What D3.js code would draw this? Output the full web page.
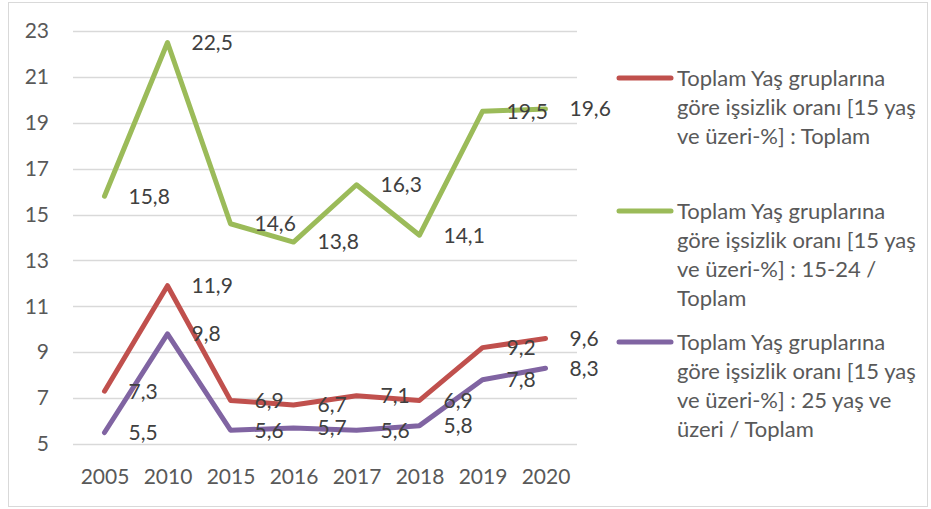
<!DOCTYPE html>
<html>
<head>
<meta charset="utf-8">
<script src="https://cdn.jsdelivr.net/npm/d3@7"></script>
<style>
  body { margin: 0; background: #fff; }
  svg { display: block; font-family: Lato, sans-serif; }
</style>
</head>
<body>
<div id="chart"></div>
<script>
const years = ['2005', '2010', '2015', '2016', '2017', '2018', '2019', '2020'];
const toplam = [7.3, 11.9, 6.9, 6.7, 7.1, 6.9, 9.2, 9.6];
const genc = [15.8, 22.5, 14.6, 13.8, 16.3, 14.1, 19.5, 19.6];
const yetiskin = [5.5, 9.8, 5.6, 5.7, 5.6, 5.8, 7.8, 8.3];
const yTicks = [5, 7, 9, 11, 13, 15, 17, 19, 21, 23];
const seriesNames = [
  ['Toplam Yaş gruplarına', 'göre işsizlik oranı [15 yaş', 've üzeri-%] : Toplam'],
  ['Toplam Yaş gruplarına', 'göre işsizlik oranı [15 yaş', 've üzeri-%] : 15-24 /', 'Toplam'],
  ['Toplam Yaş gruplarına', 'göre işsizlik oranı [15 yaş', 've üzeri-%] : 25 yaş ve', 'üzeri / Toplam'],
];
const colors = ['#c0504d', '#9bbb59', '#8064a2'];

const width = 931;
const height = 509;
const fontSize = '21px';
const legendFontSize = '22px';

const svg = d3.select('#chart')
  .append('svg')
  .attr('width', width)
  .attr('height', height);

// outer frame
svg.append('rect')
  .attr('x', 8.5).attr('y', 2.5)
  .attr('width', 919).attr('height', 504)
  .attr('fill', '#fff')
  .attr('stroke', '#d9d9d9');

const x = d3.scalePoint()
  .domain(years)
  .range([73, 577])
  .padding(0.5);

const y = d3.scaleLinear()
  .domain([5, 23])
  .range([444, 31]);

// gridlines
svg.append('g')
  .selectAll('line')
  .data(yTicks)
  .join('line')
  .attr('x1', 73).attr('x2', 577)
  .attr('y1', (d) => Math.round(y(d)) + 0.5)
  .attr('y2', (d) => Math.round(y(d)) + 0.5)
  .attr('stroke', '#d9d9d9')
  .attr('stroke-width', 1.5);

// y axis labels
const yAxis = svg.append('g')
  .attr('transform', 'translate(55,0)')
  .call(d3.axisLeft(y).tickValues(yTicks).tickSize(0).tickPadding(6).tickFormat(d3.format('d')));
yAxis.select('.domain').remove();
yAxis.selectAll('text')
  .attr('fill', '#595959')
  .style('font-size', fontSize)
  .style('font-family', 'Lato, sans-serif');

// x axis labels
const xAxis = svg.append('g')
  .attr('transform', 'translate(0,465)')
  .call(d3.axisBottom(x).tickSize(0).tickPadding(4));
xAxis.select('.domain').remove();
xAxis.selectAll('text')
  .attr('fill', '#595959')
  .style('font-size', fontSize)
  .style('font-family', 'Lato, sans-serif');

const allSeries = [toplam, genc, yetiskin];
const line = d3.line()
  .x((d, i) => x(years[i]))
  .y((d) => y(d));

allSeries.forEach((vals, s) => {
  svg.append('path')
    .datum(vals)
    .attr('d', line)
    .attr('fill', 'none')
    .attr('stroke', colors[s])
    .attr('stroke-width', 5)
    .attr('stroke-linecap', 'round')
    .attr('stroke-linejoin', 'round');
});

// data labels (to the right of each point)
allSeries.forEach((vals) => {
  svg.append('g')
    .selectAll('text')
    .data(vals)
    .join('text')
    .attr('x', (d, i) => x(years[i]) + 24)
    .attr('y', (d) => y(d))
    .attr('dy', '0.35em')
    .attr('fill', '#404040')
    .style('font-size', fontSize)
    .text((d) => d3.format('.1f')(d).replace('.', ','));
});

// legend
const legendY = [78, 211, 342];
seriesNames.forEach((lines, s) => {
  const g = svg.append('g').attr('transform', `translate(0,${legendY[s]})`);
  g.append('line')
    .attr('x1', 619).attr('x2', 671)
    .attr('y1', 0).attr('y2', 0)
    .attr('stroke', colors[s])
    .attr('stroke-width', 5)
    .attr('stroke-linecap', 'round');
  g.append('text')
    .attr('x', 677)
    .attr('fill', '#595959')
    .style('font-size', legendFontSize)
    .selectAll('tspan')
    .data(lines)
    .join('tspan')
    .attr('x', 677)
    .attr('y', (d, i) => i * 29)
    .attr('dy', '0.35em')
    .text((d) => d);
});
</script>
</body>
</html>
